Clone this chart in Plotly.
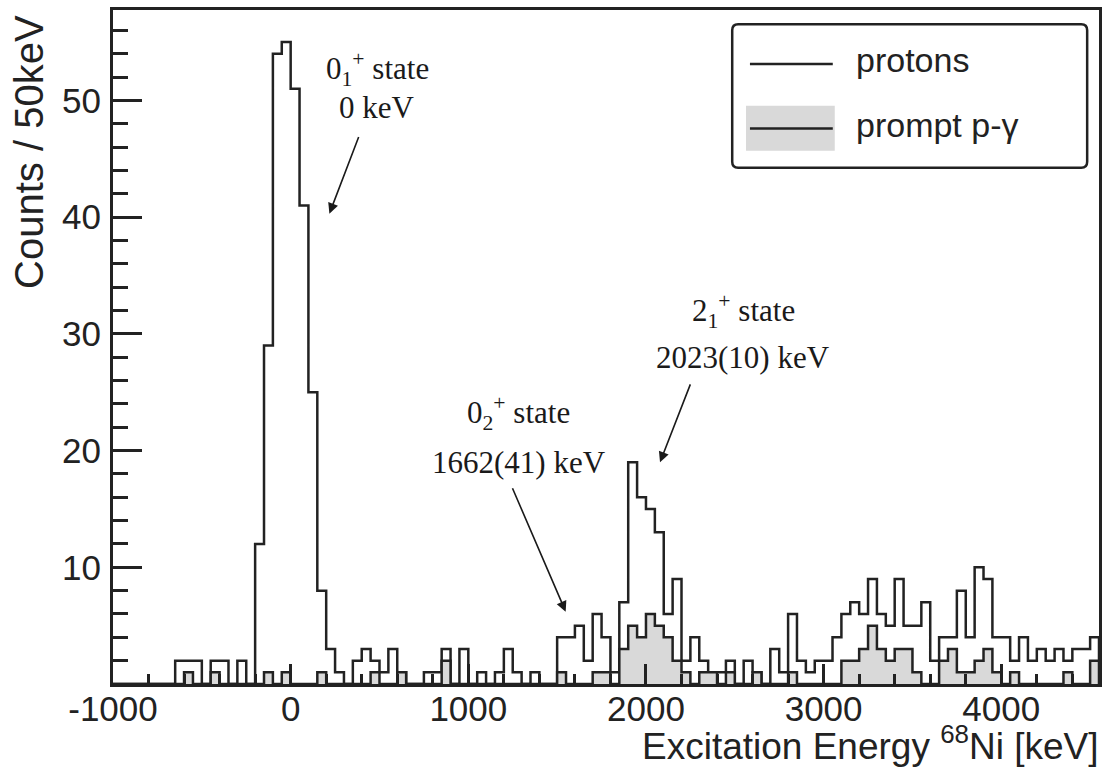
import numpy as np
import plotly.graph_objects as go

# 50 keV bins from -1000 keV to 4550 keV
X_MIN = -1000
BIN_WIDTH = 50

protons = [
    0, 0, 0, 0, 0, 0, 0, 2, 2, 2,
    0, 2, 2, 0, 2, 0, 12, 29, 54, 55,
    51, 41, 25, 8, 3, 1, 0, 2, 3, 2,
    1, 3, 1, 0, 0, 1, 1, 3, 0, 3,
    0, 1, 0, 1, 3, 1, 0, 1, 0, 0,
    4, 4, 5, 2, 6, 4, 1, 7, 19, 16,
    15, 13, 6, 9, 2, 4, 2, 1, 1, 2,
    0, 2, 1, 0, 3, 1, 6, 2, 1, 2,
    2, 4, 6, 7, 6, 9, 6, 5, 9, 5,
    5, 7, 2, 4, 4, 8, 4, 10, 9, 4,
    4, 2, 4, 2, 3, 2, 3, 2, 3, 3, 4,
]

prompt_p_gamma = [
    0, 0, 0, 0, 0, 0, 0, 0, 1, 0,
    0, 1, 0, 0, 0, 0, 0, 1, 0, 1,
    0, 0, 0, 1, 0, 0, 0, 0, 0, 1,
    0, 0, 1, 0, 0, 0, 0, 2, 0, 0,
    0, 0, 0, 0, 0, 0, 0, 0, 0, 0,
    1, 0, 0, 0, 1, 1, 0, 3, 5, 4,
    6, 5, 4, 2, 1, 0, 1, 1, 0, 1,
    0, 0, 1, 0, 0, 0, 1, 0, 0, 0,
    0, 0, 2, 2, 3, 5, 3, 2, 3, 3,
    1, 0, 0, 2, 3, 1, 1, 2, 3, 1,
    0, 1, 0, 0, 0, 0, 0, 1, 0, 0, 2,
]

x_tickvals = [-1000, 0, 1000, 2000, 3000, 4000]
x_ticktext = ["-1000", "0", "1000", "2000", "3000", "4000"]
y_tickvals = [10, 20, 30, 40, 50]
y_ticktext = ["10", "20", "30", "40", "50"]

INK = "#222222"
SANS = "Liberation Sans, Arial, sans-serif"
SERIF = "Liberation Serif, Times New Roman, serif"
LABEL_SIZE = 35


def step_outline(counts):
    """Closed step outline (ROOT 'HIST' style) of a binned histogram."""
    counts = np.asarray(counts, dtype=float)
    edges = X_MIN + BIN_WIDTH * np.arange(len(counts) + 1)
    xs = np.repeat(edges, 2)
    ys = np.concatenate([[0.0], np.repeat(counts, 2), [0.0]])
    return xs, ys


def rounded_box(x0, x1, y0, y1, rx, ry):
    """SVG path for a rectangle with slightly rounded corners (paper units)."""
    return (f"M{x0 + rx},{y1} L{x1 - rx},{y1} Q{x1},{y1} {x1},{y1 - ry} "
            f"L{x1},{y0 + ry} Q{x1},{y0} {x1 - rx},{y0} "
            f"L{x0 + rx},{y0} Q{x0},{y0} {x0},{y0 + ry} "
            f"L{x0},{y1 - ry} Q{x0},{y1} {x0 + rx},{y1} Z")


n_bins = len(protons)
x_max = X_MIN + BIN_WIDTH * n_bins
y_max = 1.05 * max(protons)

fig = go.Figure()

px_, py_ = step_outline(protons)
fig.add_trace(go.Scatter(
    x=px_, y=py_, mode="lines", name="protons",
    line=dict(color=INK, width=2.5), hoverinfo="skip",
))

gx, gy = step_outline(prompt_p_gamma)
fig.add_trace(go.Scatter(
    x=gx, y=gy, mode="lines", name="prompt p-γ",
    fill="tozeroy", fillcolor="#d9d9d9",
    line=dict(color=INK, width=2.5), hoverinfo="skip",
))

fig.update_layout(
    width=1109, height=772,
    margin=dict(l=113, r=7, t=9, b=88),
    paper_bgcolor="white", plot_bgcolor="white",
    showlegend=False,
    font=dict(family=SANS, color=INK, size=LABEL_SIZE),
)

fig.update_xaxes(
    range=[X_MIN, x_max],
    tickmode="array", tickvals=x_tickvals, ticktext=x_ticktext,
    ticks="inside", ticklen=20, tickwidth=2.5, tickcolor=INK,
    minor=dict(ticks="inside", dtick=200, tick0=0, ticklen=10,
               tickwidth=2.5, tickcolor=INK),
    showline=True, linewidth=3, linecolor=INK, mirror=True,
    showgrid=False, zeroline=False,
    tickfont=dict(family=SANS, size=LABEL_SIZE, color=INK),
    ticklabelstandoff=-8,
)

fig.update_yaxes(
    range=[0, y_max],
    tickmode="array", tickvals=y_tickvals, ticktext=y_ticktext,
    ticks="inside", ticklen=29, tickwidth=2.5, tickcolor=INK,
    minor=dict(ticks="inside", dtick=2, tick0=0, ticklen=15,
               tickwidth=2.5, tickcolor=INK),
    showline=True, linewidth=3, linecolor=INK, mirror=True,
    showgrid=False, zeroline=False,
    tickfont=dict(family=SANS, size=LABEL_SIZE, color=INK),
    ticklabelstandoff=2,
)

annotations = []

# axis titles, aligned to the far end of each axis
annotations.append(dict(
    text="Excitation Energy <sup>68</sup>Ni [keV]",
    xref="paper", yref="paper", x=1.002, y=-0.089,
    xanchor="right", yanchor="middle", showarrow=False,
    font=dict(family=SANS, size=37, color=INK),
))
annotations.append(dict(
    text="Counts / 50keV", textangle=-90,
    xref="paper", yref="paper", x=-0.086, y=0.996,
    xanchor="center", yanchor="top", showarrow=False,
    font=dict(family=SANS, size=40, color=INK),
))

# state labels
state_labels = [
    ("0<sub>1</sub><sup>+</sup> state", "0 keV", 487, 52.7, 49.4),
    ("0<sub>2</sub><sup>+</sup> state", "1662(41) keV", 1284, 23.2, 19.0),
    ("2<sub>1</sub><sup>+</sup> state", "2023(10) keV", 2547, 32.0, 28.0),
]
for line1, line2, xc, y1, y2 in state_labels:
    for txt, yy in ((line1, y1), (line2, y2)):
        annotations.append(dict(
            text=txt, x=xc, y=yy, xref="x", yref="y",
            xanchor="center", yanchor="middle", showarrow=False,
            font=dict(family=SERIF, size=31, color="#1a1a1a"),
        ))

# arrows: (head x, head y, tail x, tail y)
arrows = [
    (218, 40.3, 386, 47.0),
    (1548, 6.2, 1245, 16.9),
    (2079, 19.0, 2253, 25.8),
]
for hx, hy, tx, ty in arrows:
    annotations.append(dict(
        text="", x=hx, y=hy, ax=tx, ay=ty,
        xref="x", yref="y", axref="x", ayref="y",
        showarrow=True, arrowhead=2, arrowsize=1.3, arrowwidth=1.6,
        arrowcolor="#1a1a1a", standoff=0,
    ))

# legend
annotations.append(dict(
    text="protons", xref="paper", yref="paper", x=0.752, y=0.926,
    xanchor="left", yanchor="middle", showarrow=False,
    font=dict(family=SANS, size=34, color=INK),
))
annotations.append(dict(
    text="prompt p-γ", xref="paper", yref="paper", x=0.752, y=0.830,
    xanchor="left", yanchor="middle", showarrow=False,
    font=dict(family=SANS, size=34, color=INK),
))

shapes = [
    dict(type="path", xref="paper", yref="paper",
         path=rounded_box(0.628, 0.988, 0.766, 0.979, 0.006, 0.009),
         line=dict(color=INK, width=2.5), fillcolor="white", layer="above"),
    dict(type="line", xref="paper", yref="paper",
         x0=0.646, x1=0.730, y0=0.920, y1=0.920,
         line=dict(color=INK, width=2.5), layer="above"),
    dict(type="rect", xref="paper", yref="paper",
         x0=0.642, x1=0.732, y0=0.791, y1=0.858,
         line=dict(width=0), fillcolor="#d9d9d9", layer="above"),
    dict(type="line", xref="paper", yref="paper",
         x0=0.646, x1=0.730, y0=0.824, y1=0.824,
         line=dict(color=INK, width=2.5), layer="above"),
]

fig.update_layout(annotations=annotations, shapes=shapes)

fig.write_html("out.html")
